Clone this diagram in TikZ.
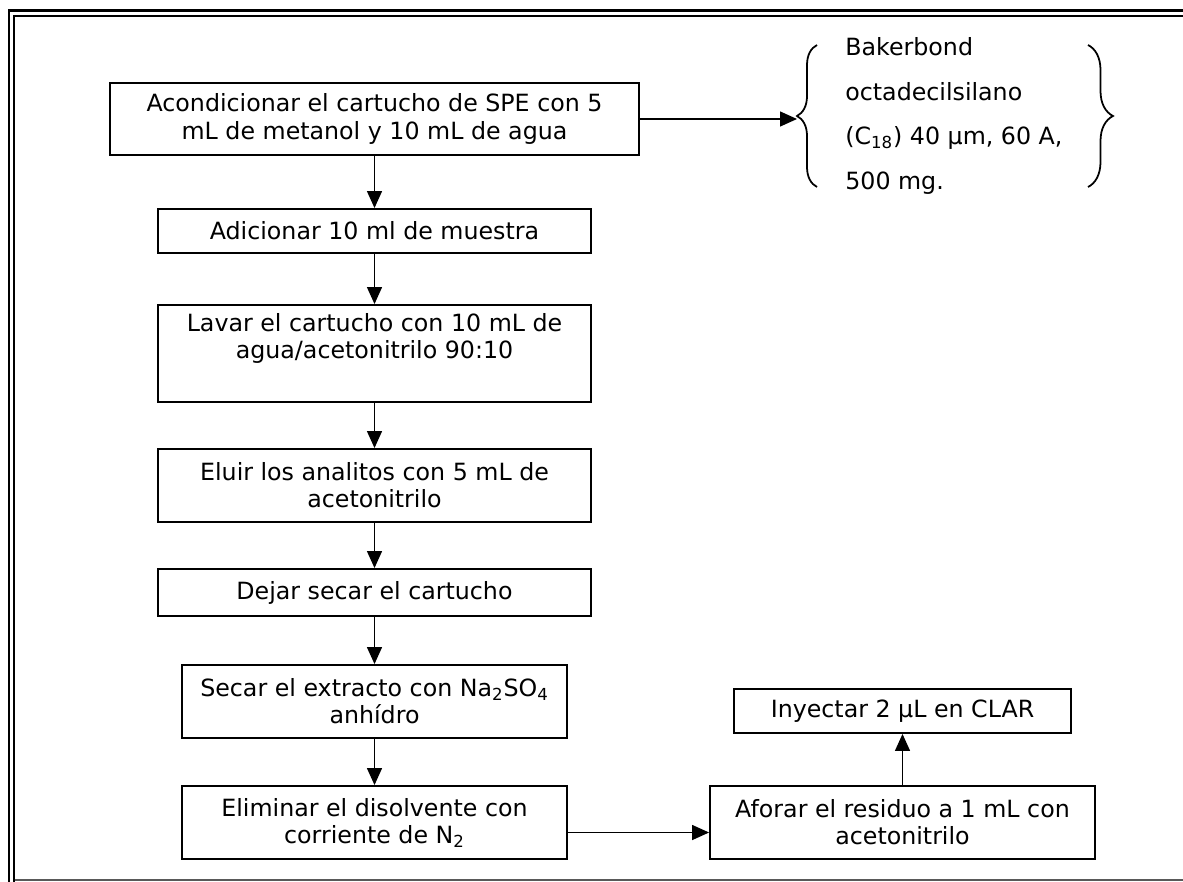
\documentclass[tikz,border=0pt]{standalone}
\usepackage{fontspec}
\setmainfont{DejaVu Sans}
\usepackage{tikz}
\usetikzlibrary{arrows.meta,decorations.pathreplacing}

\begin{document}
\begin{tikzpicture}[x=0.02cm, y=-0.02cm,
        paso/.style={draw, line width=1.1pt, inner sep=0pt, align=center,
            font=\fontsize{13.5pt}{15.5pt}\selectfont},
        flecha/.style={line width=0.8pt, -{Triangle[length=0.34cm,width=0.3cm]}},
        llave/.style={line width=1pt, decorate}]
        \useasboundingbox (0,0) rectangle (1183,882);

        % marco
        \draw[line width=1.7pt] (9,882) -- (9,10.8) -- (1183,10.8);
        \draw[line width=1pt] (13.7,882) -- (13.7,15.7) -- (1183,15.7);
        \draw[gray!70!black, line width=0.8pt] (14.5,880) -- (1183,880);

        % columna principal
        \node[paso, minimum width=10.58cm, minimum height=1.44cm] (acond) at (374.5,119)
            {Acondicionar el cartucho de SPE con 5\\mL de metanol y 10 mL de agua};
        \node[paso, minimum width=8.66cm, minimum height=0.88cm] (adic) at (374.5,231)
            {Adicionar 10 ml de muestra};
        \node[paso, minimum width=8.66cm, minimum height=1.94cm] (lavar) at (374.5,353.5)
            {Lavar el cartucho con 10 mL de\\agua/acetonitrilo 90:10\\\strut};
        \node[paso, minimum width=8.66cm, minimum height=1.46cm] (eluir) at (374.5,485.5)
            {Eluir los analitos con 5 mL de\\acetonitrilo};
        \node[paso, minimum width=8.66cm, minimum height=0.94cm] (dejar) at (374.5,592.5)
            {Dejar secar el cartucho};
        \node[paso, minimum width=7.7cm, minimum height=1.46cm] (secar) at (374.5,701.5)
            {Secar el extracto con Na\textsubscript{2}SO\textsubscript{4}\\anhídro};
        \node[paso, minimum width=7.7cm, minimum height=1.46cm] (elim) at (374.5,822.5)
            {Eliminar el disolvente con\\corriente de N\textsubscript{2}};

        % columna derecha
        \node[paso, minimum width=7.7cm, minimum height=1.46cm] (aforar) at (902.5,822.5)
            {Aforar el residuo a 1 mL con\\acetonitrilo};
        \node[paso, minimum width=6.74cm, minimum height=0.88cm] (inyec) at (902.5,711)
            {Inyectar 2 μL en CLAR};

        % cartucho
        \node[anchor=west, inner sep=0pt, align=left,
            font=\fontsize{13.5pt}{25.4pt}\selectfont] (cart) at (845,116)
            {Bakerbond\\octadecilsilano\\(C\textsubscript{18}) 40 μm, 60 A,\\500 mg.};
        \coordinate (punta) at (797,119);
        \draw[llave, decoration={brace, amplitude=0.4cm}] (817,187) -- (817,45);
        \draw[llave, decoration={brace, amplitude=0.5cm}] (1088,45) -- (1088,187);

        % flechas
        \draw[flecha] (acond) -- (punta);
        \draw[flecha] (acond) -- (adic);
        \draw[flecha] (adic) -- (lavar);
        \draw[flecha] (lavar) -- (eluir);
        \draw[flecha] (eluir) -- (dejar);
        \draw[flecha] (dejar) -- (secar);
        \draw[flecha] (secar) -- (elim);
        \draw[flecha] ([yshift=-0.2cm]elim.east) -- ([yshift=-0.2cm]aforar.west);
        \draw[flecha] (aforar) -- (inyec);
\end{tikzpicture}
\end{document}
